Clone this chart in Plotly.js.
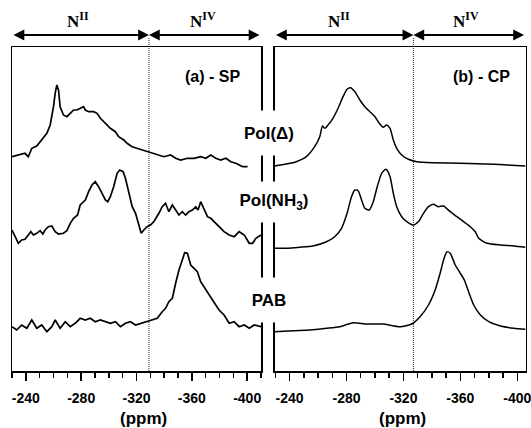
<!DOCTYPE html>
<html>
<head>
<meta charset="utf-8">
<script src="https://cdn.plot.ly/plotly-3.0.1.min.js"></script>
<style>html,body{margin:0;padding:0;background:#fff;}#chart{width:531px;height:428px;}</style>
</head>
<body>
<div id="chart"></div>
<script>
// ---- Tick labels ----
const tickVals = [-240, -280, -320, -360, -400];
const tickText = ['-240', '-280', '-320', '-360', '-400'];
const sampleLabels = ['Pol(\u0394)', 'Pol(NH<sub>3</sub>)', 'PAB'];
const panelTitles = ['(a) - SP', '(b) - CP'];

// ---- (a) SP spectra: chemical shift (ppm) and stacked intensity ----
const spPolDeltaX = [-230,-235.8,-239.4,-241.8,-244.3,-247.9,-251.5,-255.2,-257.6,-260,-261.2,-262.4,-263.6,-264.8,-267.2,-269.7,-272.1,-274.5,-276.9,-279.3,-281.7,-283,-285.4,-289,-291.5,-293.9,-297.5,-301.1,-304.7,-307.1,-310.8,-313.2,-316.8,-320.5,-324.1,-327.7,-331.4,-335,-339.8,-344.7,-348.3,-351.9,-356.8,-361.6,-366.4,-370.1,-373.7,-377.3,-380.9,-384.6,-388.2,-391.8,-394.2,-396.7,-400.3];
const spPolDeltaY = [214.3,216,217.7,214.3,222.7,225,231,237.7,246,264.3,277.7,286,281,264.3,256,254.3,257.7,261,261,262.7,264.3,261,259.3,259.3,257.7,252.7,247.7,242.7,239.3,234.3,231,227.7,224.3,222.7,221,219.3,217.7,216,214.3,216,212.7,211,212.7,212.7,214.3,212.7,216,212.7,211,212.7,209.3,207.7,206,204.3,204.3];

const spPolNH3X = [-230,-232.2,-234.6,-237,-239.4,-241.8,-243.6,-245.5,-247.9,-250.3,-252.3,-253.9,-256.3,-258.8,-261.2,-263.6,-267.2,-269.7,-272.1,-274.5,-277.4,-279.3,-283,-285.4,-287.8,-290.2,-292.6,-295.1,-297.5,-299.2,-301.1,-303.5,-306,-307.9,-310.3,-312,-314.4,-316.9,-319.3,-321.7,-323.4,-325.3,-327.7,-330.1,-332.5,-336.2,-338.6,-341,-343.4,-345.9,-348.3,-350.7,-353.1,-355.5,-357.9,-360.4,-362.8,-364.5,-366.4,-368.8,-371.3,-373.7,-376.1,-379.7,-383.3,-387,-390.6,-394.2,-397.9,-401.5,-403.9,-406.3,-410];
const spPolNH3Y = [141,134.3,127.7,131,131.7,136,139.3,136,137.7,140.3,137,141,144.3,145,139.3,137,137.7,140.3,147.7,152.7,156,166,171,179.3,186,189.3,184.3,177.7,171,169.3,174.3,184.3,197.7,201,199.3,192.7,177.7,164.3,157.7,146,137.7,141,144.3,146,149.3,157.7,164.3,167.7,159.3,166,161,156,159.3,156,159.3,161,164.3,161,169.3,161,154.3,152.7,149.3,144.3,139.3,136,134.3,139.3,136,127.7,127.7,132.7,136];

const spPABX = [-230,-233.4,-237,-240.7,-244.3,-247.9,-251.5,-255.2,-258.8,-261.2,-264.8,-268.5,-272.1,-275.7,-279.3,-283,-286.6,-290.2,-293.9,-297.5,-301.1,-304.7,-308.4,-312,-315.6,-319.3,-322.9,-327.7,-331.4,-335,-338.6,-341,-343.4,-345.9,-348.3,-350.7,-353.1,-354.8,-356.8,-359.2,-361.6,-364,-366.4,-370.1,-373.7,-377.3,-379.7,-383.3,-387,-390.6,-394.2,-397.9,-401.5,-405.1,-410];
const spPABY = [44.3,41,46,42.7,51,42.7,46,39.3,44.3,51,42.7,49.3,44.3,47.7,52.7,51,52.7,49.3,51,49.3,47.7,49.3,44.3,47.7,49.3,46,47.7,49.3,51,52.7,59.3,62.7,69.3,72.7,87.7,101,111,118.3,117.7,106,102.7,99.3,89.3,81,72.7,66,61,56,47.7,49.3,44.3,46,42.7,46,44.3];

// ---- (b) CP spectra ----
const cpPolDeltaX = [-229.4,-237.7,-244.7,-251.8,-257.6,-261.2,-263.1,-264.7,-267,-270.5,-274.1,-277.6,-280.4,-282.8,-285.9,-289.4,-292.9,-296.4,-300,-303,-305.8,-308.2,-310.6,-312.9,-315.3,-318.8,-323.5,-329.4,-341.1,-360,-383.5,-405.8];
const cpPolDeltaY = [205,207,209.3,214.3,224.3,234.3,245,242.7,246,252.7,262.7,274.3,281.7,283.3,279.3,271,264.3,259.3,254.3,247.7,243.7,246,242.7,231,222.7,216,211.7,209.3,208.3,207.7,206.7,205];

const cpPolNH3X = [-229.4,-237.7,-247.1,-256.4,-265.9,-271.7,-276.5,-280.4,-283.5,-285.9,-288.2,-290.6,-292.9,-296,-298.8,-301.6,-304.7,-307.7,-310.6,-312.9,-315.3,-318.8,-322.4,-326.6,-330.5,-334.1,-337.6,-341.1,-344.6,-348.2,-352.9,-357.6,-362.3,-367,-370.5,-372.9,-378.8,-388.2,-397.6,-405.8];
const cpPolNH3Y = [122.7,122.7,123.7,125,129.3,134.3,142.7,157.7,174.3,181,180.3,171,162.7,161,169.3,184.3,197.7,201.7,194.3,177.7,164.3,154.3,149.3,146,149.3,157.7,164.3,166.7,164.3,165,159.3,154.3,149.3,144.3,139.3,132.7,127.7,126,125,123.7];

const cpPABX = [-229.4,-242.3,-254.1,-265.9,-275.3,-284.7,-294.1,-305.8,-317.6,-325.9,-331.7,-337.6,-342.3,-345.8,-348.2,-350.6,-352.9,-356.4,-360,-362.8,-365.8,-369.4,-374.1,-380,-388.2,-397.6,-405.8];
const cpPABY = [39.3,40.3,41,42.7,44.3,48.3,47,47,44.3,47,54.3,66,81,97.7,111,119.3,117.7,106,97.7,91,79.3,66,56,49.3,45,42.7,41.7];

const W = 531, H = 428;
const mT = 47, mB = 57, plotH = H - mT - mB; // 324
const pyToPaper = py => (H - mB - py) / plotH;

function tr(x, y, xa, ya, w, smooth) {
  return {x: x, y: y, xaxis: xa, yaxis: ya, type: 'scatter', mode: 'lines',
    line: {color: '#000', width: w, shape: smooth ? 'spline' : 'linear', smoothing: smooth ? 0.6 : 0},
    hoverinfo: 'skip', showlegend: false};
}

const data = [
  tr(spPolDeltaX, spPolDeltaY, 'x', 'y', 1.7, false),
  tr(spPolNH3X, spPolNH3Y, 'x', 'y', 1.7, false),
  tr(spPABX, spPABY, 'x', 'y', 1.7, false),
  tr(cpPolDeltaX, cpPolDeltaY, 'x2', 'y2', 1.5, true),
  tr(cpPolNH3X, cpPolNH3Y, 'x2', 'y2', 1.5, true),
  tr(cpPABX, cpPABY, 'x2', 'y2', 1.5, true)
];

const tickFont = {family: 'Arial, Liberation Sans, sans-serif', size: 14, weight: 'bold', color: '#000'};
function xAx(domain, range, anchor) {
  return {domain: domain, range: range, anchor: anchor, showline: true, linecolor: '#000', linewidth: 1.5,
    mirror: true, ticks: 'outside', ticklen: 8, tickwidth: 1.5, tickcolor: '#000',
    tickmode: 'array', tickvals: tickVals, ticktext: tickText, tickfont: tickFont, ticklabelstandoff: 6,
    ticklabeloverflow: 'allow',
    minor: {tickmode: 'linear', tick0: -240, dtick: 10, ticks: 'outside', ticklen: 5, tickwidth: 1.5, tickcolor: '#000', showgrid: false},
    showgrid: false, zeroline: false, fixedrange: true};
}
function yAx(anchor) {
  return {domain: [0, 1], range: [0, plotH], anchor: anchor, showline: true, linecolor: '#000', linewidth: 1.5,
    mirror: true, ticks: '', showticklabels: false, showgrid: false, zeroline: false, fixedrange: true};
}

const divL = -329, divR = -327;
const arrowY = pyToPaper(35);
const nLabY = pyToPaper(20);
const serif = {family: 'Liberation Serif, Times New Roman, serif', size: 17, weight: 'bold', color: '#000'};
const boldSans = (s) => ({family: 'Arial, Liberation Sans, sans-serif', size: s, weight: 'bold', color: '#000'});

function arrow(xref, x, ax) {
  return {xref: xref, yref: 'paper', x: x, y: arrowY, axref: xref, ayref: 'pixel', ax: ax, ay: 0,
    text: '', showarrow: true, arrowhead: 2, startarrowhead: 2, arrowside: 'end+start',
    arrowsize: 1.2, arrowwidth: 1.8, arrowcolor: '#000', standoff: 0, startstandoff: 0};
}
function txt(xref, x, y, text, font, extra) {
  return Object.assign({xref: xref, yref: 'paper', x: x, y: y, text: text, showarrow: false, font: font,
    xanchor: 'center', yanchor: 'middle'}, extra || {});
}

const annotations = [
  arrow('x', divL, -230), arrow('x', divL, -410),
  arrow('x2', divR, -229.4), arrow('x2', divR, -405.8),
  txt('x', -278, nLabY, 'N<sup>II</sup>', serif),
  txt('x', -368, nLabY, 'N<sup>IV</sup>', serif),
  txt('x2', -275, nLabY, 'N<sup>II</sup>', serif),
  txt('x2', -364, nLabY, 'N<sup>IV</sup>', serif),
  txt('paper', 212 / W, pyToPaper(77), panelTitles[0], boldSans(16)),
  txt('paper', 481 / W, pyToPaper(77), panelTitles[1], boldSans(16)),
  txt('paper', 269 / W, pyToPaper(133), sampleLabels[0], boldSans(17), {bgcolor: '#fff', width: 58, height: 44, borderpad: 0}),
  txt('paper', 274 / W, pyToPaper(202), sampleLabels[1], boldSans(17), {bgcolor: '#fff', width: 78, height: 40, borderpad: 0}),
  txt('paper', 269 / W, pyToPaper(300), sampleLabels[2], boldSans(17), {bgcolor: '#fff', width: 46, height: 44, borderpad: 0}),
  txt('paper', 143 / W, pyToPaper(418), '(ppm)', boldSans(17)),
  txt('paper', 402 / W, pyToPaper(418), '(ppm)', boldSans(17))
];

const shapes = [
  {type: 'line', xref: 'x', yref: 'paper', x0: divL, x1: divL, y0: 0, y1: pyToPaper(37), line: {color: '#222', width: 1, dash: '1px,1px'}},
  {type: 'line', xref: 'x2', yref: 'paper', x0: divR, x1: divR, y0: 0, y1: pyToPaper(37), line: {color: '#222', width: 1, dash: '1px,1px'}}
];

const layout = {
  width: W, height: H, margin: {l: 0, r: 0, t: mT, b: mB, pad: 0},
  paper_bgcolor: '#fff', plot_bgcolor: '#fff', showlegend: false,
  xaxis: xAx([12 / W, 261 / W], [-230, -410], 'y'),
  yaxis: yAx('x'),
  xaxis2: xAx([274.5 / W, 525.5 / W], [-229.4, -405.8], 'y2'),
  yaxis2: yAx('x2'),
  annotations: annotations,
  shapes: shapes
};

Plotly.newPlot('chart', data, layout, {displayModeBar: false, staticPlot: true});
</script>
</body>
</html>
